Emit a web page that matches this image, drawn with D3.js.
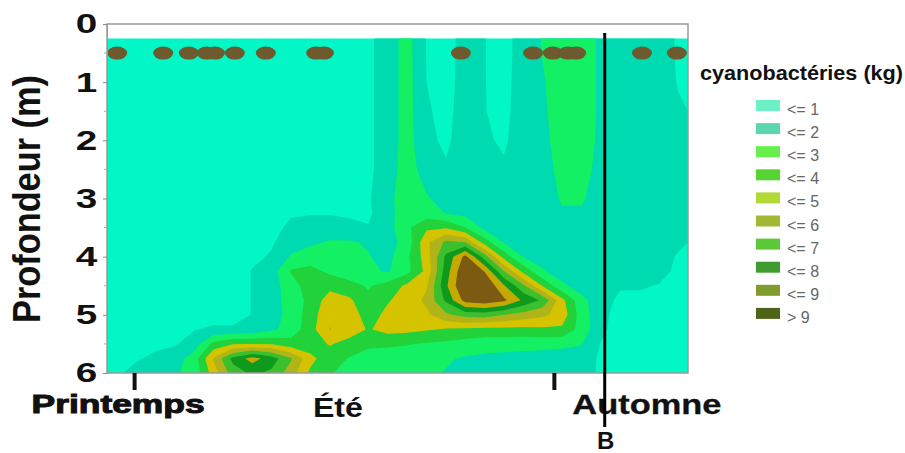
<!DOCTYPE html>
<html>
<head>
<meta charset="utf-8">
<script src="https://cdn.jsdelivr.net/npm/d3@7"></script>
<style>
  body { margin: 0; background: #fff; }
  svg { display: block; font-family: Arial, "Liberation Sans", sans-serif; }
</style>
</head>
<body>
<div id="chart"></div>
<script>
// grid rows (depth, m) and grid columns (day of the campaign, 4-day cells)
const depths = [0.25, 0.5, 1, 1.5, 2, 2.5, 3, 3.25, 3.5, 3.75, 4, 4.25, 4.5, 4.75, 5, 5.25, 5.5, 5.75, 6];
const days = [2, 6, 10, 14, 18, 22, 26, 30, 34, 38, 42, 46, 50, 54, 58, 62, 66, 70, 74, 78, 82, 86, 90, 94, 98, 102, 106, 110, 114, 118];

// cyanobacteria (kg), one row per depth, one value per day column
const biomass = [
  [0.5,0.5,0.5,0.5,0.5,0.5,0.5,0.5,0.5,0.5,0.5,0.5,0.5,0.8,1.5,2.4,0.95,0.6,1.4,1.02,0.7,1.4,2.05,2.6,2.6,1.8,1.5,1.5,1.4,0.9],
  [0.5,0.5,0.5,0.5,0.5,0.5,0.5,0.5,0.5,0.5,0.5,0.5,0.5,0.8,1.5,2.4,0.95,0.6,1.4,1.02,0.7,1.4,2.05,2.6,2.6,1.8,1.5,1.5,1.4,0.9],
  [0.5,0.5,0.5,0.5,0.5,0.5,0.5,0.5,0.5,0.5,0.5,0.5,0.5,0.8,1.5,2.4,1.0,0.65,1.4,1.02,0.75,1.4,1.9,2.6,2.6,1.8,1.5,1.5,1.4,0.95],
  [0.5,0.5,0.5,0.5,0.5,0.5,0.5,0.5,0.5,0.5,0.5,0.5,0.5,0.8,1.5,2.4,1.1,0.75,1.4,1.02,0.8,1.4,1.8,2.6,2.6,1.8,1.5,1.5,1.4,1.1],
  [0.5,0.5,0.5,0.5,0.5,0.5,0.5,0.5,0.5,0.5,0.5,0.5,0.5,0.8,1.5,2.4,1.2,0.85,1.4,1.1,0.9,1.4,1.7,2.5,2.6,1.75,1.5,1.5,1.4,1.3],
  [0.5,0.5,0.5,0.5,0.5,0.5,0.5,0.5,0.5,0.5,0.5,0.5,0.5,0.8,1.5,2.5,1.5,1.1,1.5,1.3,1.1,1.5,1.6,2.3,2.4,1.65,1.5,1.5,1.4,1.4],
  [0.5,0.5,0.5,0.5,0.5,0.5,0.5,0.5,0.5,0.7,0.8,0.85,0.85,0.9,1.7,2.6,2.1,1.6,1.5,1.5,1.3,1.5,1.55,2.1,2.1,1.6,1.5,1.5,1.4,1.4],
  [0.5,0.5,0.5,0.5,0.5,0.5,0.5,0.5,0.5,0.9,0.95,0.95,0.9,0.85,1.6,2.7,2.5,1.95,1.7,1.6,1.5,1.5,1.5,1.9,1.9,1.6,1.5,1.5,1.4,1.4],
  [0.5,0.5,0.5,0.5,0.5,0.5,0.5,0.5,0.7,1.2,1.3,1.3,1.2,1.05,1.6,2.8,3.8,3.9,3.0,1.7,1.6,1.6,1.5,1.6,1.5,1.5,1.5,1.5,1.4,1.4],
  [0.5,0.5,0.5,0.5,0.5,0.5,0.5,0.5,0.9,1.5,1.8,2.1,2.1,1.9,1.6,2.4,4.8,6.2,6.0,3.5,1.9,1.6,1.5,1.5,1.5,1.5,1.5,1.5,1.4,1.2],
  [0.5,0.5,0.5,0.5,0.5,0.5,0.5,0.8,1.1,2.1,2.5,2.5,2.4,2.05,1.7,2.8,4.5,7.2,9.3,6.5,3.6,1.95,1.6,1.5,1.5,1.5,1.5,1.5,1.4,0.9],
  [0.5,0.5,0.5,0.5,0.5,0.5,0.5,1.05,1.5,3.1,3.3,2.8,2.5,2.2,1.9,2.7,4.3,7.5,10.0,8.95,6.0,3.7,2.1,1.5,1.5,1.5,1.5,1.5,1.3,0.8],
  [0.5,0.5,0.5,0.5,0.5,0.5,0.5,1.05,1.6,2.5,3.6,3.7,3.3,2.9,3.4,4.2,4.9,7.8,10.2,10.0,8.1,6.2,3.9,2.2,1.5,1.5,1.1,1.1,0.95,0.7],
  [0.5,0.5,0.5,0.5,0.5,0.5,0.5,1.05,1.6,2.4,3.3,4.5,4.2,3.2,3.9,4.5,5.2,7.2,9.4,9.7,9.2,7.8,6.8,4.3,2.3,1.4,0.8,0.8,0.7,0.6],
  [0.5,0.5,0.5,0.5,0.5,0.5,0.5,1.05,1.6,2.3,3.5,4.8,4.6,3.5,4.3,4.6,4.8,5.8,6.4,6.5,6.0,5.6,5.2,4.6,2.5,1.3,0.6,0.6,0.6,0.6],
  [0.5,0.5,0.5,0.5,0.95,1.2,1.2,1.3,1.8,2.4,3.6,5.05,4.6,3.9,4.4,4.3,4.1,3.9,3.8,3.7,3.7,3.7,3.8,3.8,2.6,1.2,0.6,0.6,0.6,0.6],
  [0.5,0.6,0.8,0.9,1.5,3.3,3.9,3.95,3.9,3.4,3.4,4.1,3.6,3.1,3.1,3.05,2.9,2.8,2.6,2.4,2.4,2.3,2.3,2.2,2.05,0.95,0.6,0.6,0.6,0.6],
  [0.55,0.9,1.2,1.5,2.5,5.1,7.3,8.4,7.5,6.1,4.3,3.4,2.95,2.8,2.7,2.6,2.4,2.1,1.9,1.8,1.7,1.7,1.6,1.6,1.5,0.85,0.5,0.5,0.5,0.5],
  [0.85,1.3,1.6,1.9,2.3,4.5,6.5,7.2,6.8,5.5,3.8,3.05,2.8,2.6,2.5,2.4,2.2,1.95,1.8,1.7,1.6,1.6,1.5,1.5,1.4,0.85,0.5,0.5,0.5,0.5]
];

// contour classes
const thresholds = [0, 1, 2, 3, 4, 5, 6, 7, 8, 9];
const legendLabels = ["<= 1", "<= 2", "<= 3", "<= 4", "<= 5", "<= 6", "<= 7", "<= 8", "<= 9", "> 9"];
const fillColors = ["#02f7c6", "#00dab0", "#14f064", "#22d23a", "#d6c300", "#b0b418", "#3cbf2c", "#0e9a1c", "#c6a900", "#7c5a12"];
const legendColors = ["#6cf0c8", "#5cd6ac", "#66f04e", "#55d433", "#b3d838", "#a3b832", "#5cc83a", "#3f9c2e", "#7f9c2c", "#4f6418"];

// sampling days (dots at 0.5 m)
const sampleDays = [2.1, 11.6, 16.9, 20.6, 22.3, 26.4, 32.8, 43.2, 44.8, 73.1, 88.0, 92.1, 95.2, 96.9, 110.5, 117.7];
const depthTicks = [0, 1, 2, 3, 4, 5, 6];
const seasonTicks = [5.7, 92.4];
const seasons = [
  { label: "Printemps", day: 2.3 },
  { label: "Été", day: 47.7 },
  { label: "Automne", day: 111.5 }
];
const markerDay = 102.8;
const markerLabel = "B";

const width = 905, height = 453;
const margin = { top: 24, right: 217, bottom: 80, left: 107 };
const plotW = width - margin.left - margin.right;
const plotH = height - margin.top - margin.bottom;
const stretch = 1.38; // the original figure is stretched horizontally

const svg = d3.select("#chart").append("svg")
  .attr("width", width)
  .attr("height", height);

const x = d3.scaleLinear().domain([0, 120]).range([margin.left, margin.left + plotW]);
const y = d3.scaleLinear().domain([0, 6]).range([margin.top, margin.top + plotH]);

// grid index -> data coordinates (values sit at cell centres)
const gx = d3.scaleLinear().domain(days.map((d, i) => i + 0.5)).range(days);
const gy = d3.scaleLinear().domain(depths.map((d, i) => i + 0.5)).range(depths);

const nx = days.length, ny = depths.length;
const contours = d3.contours()
  .size([nx, ny])
  .thresholds(thresholds)(biomass.flat());

const toScreen = d3.geoTransform({
  point(px, py) { this.stream.point(x(gx(px)), y(gy(py))); }
});
const path = d3.geoPath(toScreen);

svg.append("clipPath").attr("id", "plot-clip")
  .append("rect")
  .attr("x", x(0))
  .attr("y", y(depths[0]))
  .attr("width", x(120) - x(0))
  .attr("height", y(6) - y(depths[0]));

svg.append("g")
  .attr("clip-path", "url(#plot-clip)")
  .selectAll("path")
  .data(contours)
  .enter()
  .append("path")
  .attr("d", path)
  .attr("fill", (d, i) => fillColors[i])
  .attr("fill-rule", "evenodd");

// frame
svg.append("rect")
  .attr("x", x(0))
  .attr("y", y(0))
  .attr("width", x(120) - x(0))
  .attr("height", y(6) - y(0))
  .attr("fill", "none")
  .attr("stroke", "#9a9a9a")
  .attr("stroke-width", 1.5);

// sampling dots
svg.selectAll(".dot")
  .data(sampleDays)
  .enter()
  .append("ellipse")
  .attr("class", "dot")
  .attr("cx", d => x(d))
  .attr("cy", y(0.5))
  .attr("rx", 10)
  .attr("ry", 6.5)
  .attr("fill", "#6d5a2e");

// y axis
const yAxis = svg.append("g")
  .attr("transform", `translate(${x(0)},0)`)
  .call(d3.axisLeft(y).tickValues(depthTicks).tickSize(4).tickFormat(d3.format("d")));
yAxis.select(".domain").attr("stroke", "#9a9a9a");
yAxis.selectAll(".tick line").attr("stroke", "#888");
yAxis.selectAll(".tick text")
  .attr("x", -7)
  .attr("transform", `scale(${stretch},1)`)
  .style("font-size", "28px")
  .style("font-weight", "bold")
  .style("font-family", "Arial, 'Liberation Sans', sans-serif")
  .attr("fill", "#111");

svg.append("g")
  .selectAll("line")
  .data(d3.range(0.5, 6, 1))
  .enter()
  .append("line")
  .attr("x1", x(0) - 3)
  .attr("x2", x(0))
  .attr("y1", d => y(d))
  .attr("y2", d => y(d))
  .attr("stroke", "#aaa");

svg.append("text")
  .attr("transform", `translate(40, 199) scale(${stretch},1) rotate(-90)`)
  .attr("text-anchor", "middle")
  .attr("textLength", 248)
  .attr("lengthAdjust", "spacingAndGlyphs")
  .style("font-size", "28px")
  .style("font-weight", "bold")
  .attr("fill", "#111")
  .text("Profondeur (m)");

// season ticks and labels
svg.append("g")
  .selectAll("line")
  .data(seasonTicks)
  .enter()
  .append("line")
  .attr("x1", d => x(d))
  .attr("x2", d => x(d))
  .attr("y1", y(6))
  .attr("y2", y(6) + 17)
  .attr("stroke", "#111")
  .attr("stroke-width", 4);

const seasonStyle = [
  { size: 25, len: 173, base: 413, stroke: 1.0 },
  { size: 27, len: 50, base: 417, stroke: 0 },
  { size: 28, len: 149, base: 414, stroke: 0.3 }
];
svg.append("g")
  .selectAll("text")
  .data(seasons)
  .enter()
  .append("text")
  .attr("x", (d, i) => x(d.day) - seasonStyle[i].len / 2)
  .attr("y", (d, i) => seasonStyle[i].base)
  .attr("textLength", (d, i) => seasonStyle[i].len)
  .attr("lengthAdjust", "spacingAndGlyphs")
  .style("font-size", (d, i) => seasonStyle[i].size + "px")
  .style("font-weight", "bold")
  .attr("fill", "#111")
  .attr("stroke", "#111")
  .attr("stroke-width", (d, i) => seasonStyle[i].stroke)
  .text(d => d.label);

// marker line B
svg.append("line")
  .attr("x1", x(markerDay))
  .attr("x2", x(markerDay))
  .attr("y1", 33)
  .attr("y2", 427)
  .attr("stroke", "#000")
  .attr("stroke-width", 3);

svg.append("text")
  .attr("x", x(markerDay) + 1)
  .attr("y", 449)
  .attr("text-anchor", "middle")
  .style("font-size", "24px")
  .style("font-weight", "bold")
  .attr("fill", "#111")
  .text(markerLabel);

// legend
svg.append("text")
  .attr("x", 700)
  .attr("y", 80)
  .attr("textLength", 203)
  .attr("lengthAdjust", "spacingAndGlyphs")
  .style("font-size", "21px")
  .style("font-weight", "bold")
  .attr("fill", "#111")
  .text("cyanobactéries (kg)");

const legend = svg.append("g")
  .selectAll("g")
  .data(legendLabels)
  .enter()
  .append("g")
  .attr("transform", (d, i) => `translate(756, ${100 + i * 23.1})`);

legend.append("rect")
  .attr("width", 24)
  .attr("height", 11)
  .attr("fill", (d, i) => legendColors[i]);

legend.append("text")
  .attr("x", 31)
  .attr("y", 15)
  .style("font-size", "16px")
  .attr("fill", "#666")
  .text(d => d);
</script>
</body>
</html>
